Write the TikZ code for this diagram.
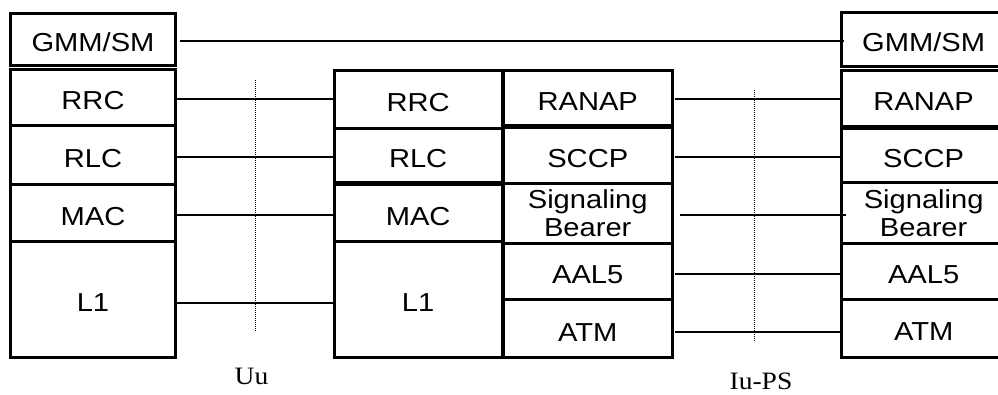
\documentclass[tikz,border=0pt]{standalone}
\usepackage{fontspec}
\setmainfont{Liberation Serif}
\newfontfamily\arialst[FakeStretch=1.12]{Liberation Sans}
\newfontfamily\timesst[FakeStretch=1.1]{Liberation Serif}
\tikzset{
  lay/.style={draw, line width=3pt, inner sep=0pt, outer sep=0pt, anchor=north west,
    font=\arialst\fontsize{26}{28.4}\selectfont, align=center,
    text height=24.5pt, text depth=0pt},
  laytwo/.style={lay, text height={}, text depth={}},
  conn/.style={line width=2.2pt},
  iface/.style={line width=1.2pt, black, dash pattern=on 1pt off 1pt},
  ifacelabel/.style={anchor=base, inner sep=0pt, font=\timesst\fontsize{25}{28}\selectfont}
}
\begin{document}
\begin{tikzpicture}[x=1pt, y=-1pt]
\useasboundingbox (0,0) rectangle (998,394);
\clip (0,0) rectangle (998,394);
\fill[white] (0,0) rectangle (998,394);

% left stack (UE)
\node[lay, minimum width=165pt, minimum height=51.5pt] (lgmm) at (10.5,13.8) {GMM/SM};
\node[lay, minimum width=165pt, minimum height=55.8pt] (lrrc) at (10.5,69.5) {RRC};
\node[lay, minimum width=165pt, minimum height=59pt] (lrlc) at (10.5,125.3) {RLC};
\node[lay, minimum width=165pt, minimum height=57pt] (lmac) at (10.5,184.3) {MAC};
\node[lay, minimum width=165pt, minimum height=115.7pt] (ll1) at (10.5,241.3) {L1};

% middle stack, radio side (RNC)
\node[lay, minimum width=167.7pt, minimum height=58pt] (mrrc) at (334.3,70) {RRC};
\node[lay, minimum width=167.7pt, minimum height=54.5pt] (mrlc) at (334.3,128) {RLC};
\node[lay, minimum width=167.7pt, minimum height=56.8pt] (mmac) at (334.3,184.5) {MAC};
\node[lay, minimum width=167.7pt, minimum height=115.7pt] (ml1) at (334.3,241.3) {L1};

% middle stack, Iu side
\node[lay, minimum width=168.5pt, minimum height=54.9pt] (mranap) at (503.5,70.3) {RANAP};
\node[lay, minimum width=168.5pt, minimum height=55.8pt] (msccp) at (503.5,127.2) {SCCP};
\node[laytwo, minimum width=168.5pt, minimum height=60.7pt] (msig) at (503.5,183) {Signaling\\Bearer};
\node[lay, minimum width=168.5pt, minimum height=56pt] (maal) at (503.5,243.7) {AAL5};
\node[lay, minimum width=168.5pt, minimum height=58.1pt] (matm) at (503.5,299.7) {ATM};

% right stack (CN)
\node[lay, minimum width=164.7pt, minimum height=53.2pt] (rgmm) at (841.3,12.8) {GMM/SM};
\node[lay, minimum width=164.7pt, minimum height=56pt] (rranap) at (841.3,70) {RANAP};
\node[lay, minimum width=164.7pt, minimum height=54.7pt] (rsccp) at (841.3,128) {SCCP};
\node[laytwo, minimum width=164.7pt, minimum height=60.9pt] (rsig) at (841.3,182.7) {Signaling\\Bearer};
\node[lay, minimum width=164.7pt, minimum height=56.1pt] (raal) at (841.3,243.6) {AAL5};
\node[lay, minimum width=164.7pt, minimum height=58pt] (ratm) at (841.3,299.7) {ATM};

% peer connectors
\draw[conn] ([xshift=4pt,yshift=-1.45pt]lgmm.east) -- ([xshift=3pt,yshift=-1.45pt]lgmm.east -| rgmm.west);
\draw[conn] ([xshift=1.5pt,yshift=-1.6pt]lrrc.east) -- ([yshift=-1.6pt]lrrc.east -| mrrc.west);
\draw[conn] ([xshift=1.5pt,yshift=-2.2pt]lrlc.east) -- ([yshift=-2.2pt]lrlc.east -| mrlc.west);
\draw[conn] ([xshift=1.5pt,yshift=-2.2pt]lmac.east) -- ([yshift=-2.2pt]lmac.east -| mmac.west);
\draw[conn] ([xshift=1.5pt,yshift=-3.5pt]ll1.east) -- ([yshift=-3.5pt]ll1.east -| ml1.west);
\draw[conn] ([xshift=2.7pt,yshift=-1.25pt]mranap.east) -- ([yshift=-1.25pt]mranap.east -| rranap.west);
\draw[conn] ([xshift=2.7pt,yshift=-2.2pt]msccp.east) -- ([yshift=-2.2pt]msccp.east -| rsccp.west);
\draw[conn] ([xshift=7.7pt,yshift=-1.65pt]msig.east) -- ([xshift=4.4pt,yshift=-1.65pt]msig.east -| rsig.west);
\draw[conn] ([xshift=2.7pt,yshift=-2.3pt]maal.east) -- ([yshift=-2.3pt]maal.east -| raal.west);
\draw[conn] ([xshift=2.7pt,yshift=-3.5pt]matm.east) -- ([yshift=-3.5pt]matm.east -| ratm.west);

% interfaces
\coordinate (uutop) at (255.7,80);
\coordinate (uubot) at (255.7,331.7);
\coordinate (iutop) at (754.7,90);
\coordinate (iubot) at (754.7,340.7);
\draw[iface] (uutop) -- (uubot);
\draw[iface] (iutop) -- (iubot);
\node[ifacelabel] (uu) at (251.5,384.5) {Uu};
\node[ifacelabel] (iu) at (761,389) {Iu-PS};
\end{tikzpicture}
\end{document}
